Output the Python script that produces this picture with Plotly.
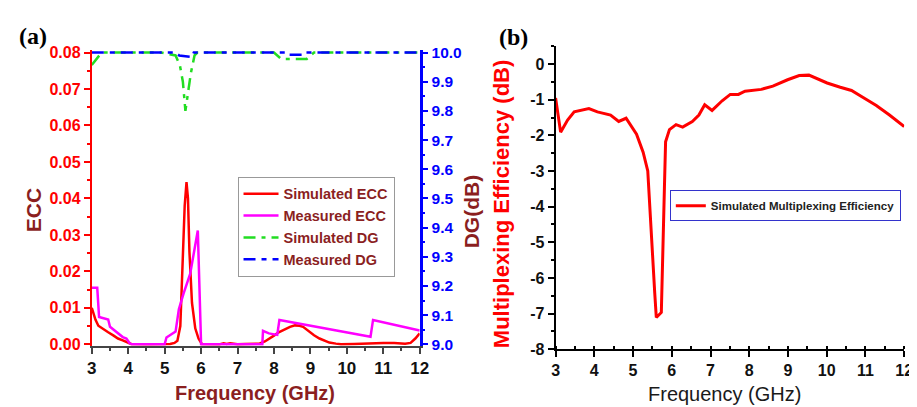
import plotly.graph_objects as go

W, H = 917, 407

# ---------------- data: panel (a) ----------------
f_sim_ecc = [3.0, 3.05, 3.1, 3.18, 3.3, 3.45, 3.6, 3.72, 3.85, 3.95,
             4.08, 4.5, 5.0, 5.15, 5.27, 5.35, 5.43, 5.5, 5.55, 5.6,
             5.64, 5.68, 5.75, 5.84, 5.93, 6.02, 6.5, 6.62, 6.7, 6.8,
             6.9, 7.0, 7.2, 7.6, 7.75, 7.86, 8.0, 8.13, 8.3, 8.44,
             8.58, 8.7, 8.8, 8.98, 9.1, 9.25, 9.4, 9.52, 9.7, 9.84,
             10.2, 10.6, 11.0, 11.3, 11.6, 11.75, 11.88, 12.0]
sim_ecc = [0.0100, 0.0085, 0.0068, 0.0051, 0.0042, 0.0033, 0.0024, 0.0016, 0.0011, 0.0007,
           0.0001, 0.0, 0.0, 0.0001, 0.0004, 0.0010, 0.0050, 0.0254, 0.0380, 0.0445,
           0.0400, 0.0254, 0.0114, 0.0044, 0.0016, 0.0001, 0.0, 0.0003, 0.0001, 0.0003,
           0.0002, 0.0, 0.0001, 0.0002, 0.0008, 0.0016, 0.0024, 0.0033, 0.0042, 0.0048,
           0.0052, 0.0051, 0.0048, 0.0033, 0.0025, 0.0016, 0.0009, 0.0005, 0.0002, 0.0,
           0.0001, 0.0003, 0.0004, 0.0004, 0.0002, 0.0004, 0.0016, 0.0030]

f_meas_ecc = [3.0, 3.15, 3.2, 3.45, 3.5, 3.6, 3.72, 3.85, 3.95, 4.04,
              4.1, 5.0, 5.05, 5.3, 5.39, 5.52, 5.7, 5.91, 6.0, 7.68,
              7.7, 7.86, 8.09, 8.15, 10.65, 10.72, 12.0]
meas_ecc = [0.0155, 0.0155, 0.0075, 0.0068, 0.0048, 0.0040, 0.0029, 0.0020, 0.0016, 0.0003,
            0.0, 0.0, 0.0019, 0.0035, 0.0096, 0.0140, 0.0193, 0.0312, 0.0, 0.0,
            0.0037, 0.0030, 0.0026, 0.0067, 0.0021, 0.0067, 0.0038]

f_sim_dg = [3.0, 3.27, 4.9, 5.3, 5.42, 5.5, 5.57, 5.63, 5.72, 5.82, 5.9, 8.0, 8.2, 8.9, 9.1, 12.0]
sim_dg = [9.957, 10.0, 10.0, 9.99, 9.955, 9.9, 9.80, 9.85, 9.93, 9.99, 10.0, 10.0, 9.978, 9.978, 10.0, 10.0]

f_meas_dg = [3.0, 5.3, 5.4, 5.75, 5.8, 8.3, 8.35, 8.8, 8.85, 12.0]
meas_dg = [10.0, 10.0, 9.99, 9.985, 10.0, 10.0, 9.992, 9.992, 10.0, 10.0]

ecc_ticks = [0.0, 0.01, 0.02, 0.03, 0.04, 0.05, 0.06, 0.07, 0.08]
dg_ticks = [9.0, 9.1, 9.2, 9.3, 9.4, 9.5, 9.6, 9.7, 9.8, 9.9, 10.0]
freq_ticks = [3, 4, 5, 6, 7, 8, 9, 10, 11, 12]

# ---------------- data: panel (b) ----------------
f_me = [3.0, 3.13, 3.31, 3.48, 3.86, 4.08, 4.42, 4.63, 4.82, 5.09,
        5.26, 5.38, 5.56, 5.6, 5.73, 5.76, 5.81, 5.84, 5.94, 6.11,
        6.28, 6.53, 6.70, 6.85, 7.04, 7.30, 7.51, 7.72, 7.89, 8.31,
        8.61, 8.99, 9.29, 9.54, 9.75, 10.01, 10.35, 10.64, 10.94, 11.28,
        11.62, 12.0]
me = [-0.95, -1.91, -1.57, -1.34, -1.25, -1.34, -1.43, -1.61, -1.52, -1.97,
      -2.47, -3.0, -6.43, -7.11, -6.97, -5.26, -3.46, -2.18, -1.84, -1.70,
      -1.77, -1.61, -1.43, -1.14, -1.30, -1.03, -0.85, -0.85, -0.76, -0.71,
      -0.62, -0.44, -0.32, -0.31, -0.40, -0.53, -0.65, -0.74, -0.94, -1.16,
      -1.43, -1.75]
me_tickvals = [-8, -7, -6, -5, -4, -3, -2, -1, 0]
me_ticktext = ["-8", "-7", "-6", "-5", "-4", "-3", "-2", "-1", "0"]


def px(x):
    return x / W


def py(y):
    return 1 - y / H


FONT = "Arial, Liberation Sans, sans-serif"
MAROON = "#8b1f1f"

fig = go.Figure()

fig.add_trace(go.Scatter(x=f_sim_ecc, y=sim_ecc, mode="lines", name="Simulated ECC",
                         line=dict(color="#ff0000", width=2.5), xaxis="x", yaxis="y"))
fig.add_trace(go.Scatter(x=f_meas_ecc, y=meas_ecc, mode="lines", name="Measured ECC",
                         line=dict(color="#ff00ff", width=2.5), xaxis="x", yaxis="y"))
fig.add_trace(go.Scatter(x=f_sim_dg, y=sim_dg, mode="lines", name="Simulated DG",
                         line=dict(color="#22dd22", width=2.5, dash="12px,6px,4px,6px"),
                         xaxis="x", yaxis="y2"))
fig.add_trace(go.Scatter(x=f_meas_dg, y=meas_dg, mode="lines", name="Measured DG",
                         line=dict(color="#0000ff", width=2.5, dash="12px,6px,5px,6px"),
                         xaxis="x", yaxis="y2"))
fig.add_trace(go.Scatter(x=f_me, y=me, mode="lines", name="Simulated Multiplexing Efficiency",
                         line=dict(color="#ff0000", width=3), xaxis="x2", yaxis="y3",
                         legend="legend2"))

# ECC axis: 0 at px 343, 0.08 at px 40
ecc_per_px = 0.08 / (343 - 40)
ecc_lo, ecc_hi = -0.0004, 0.0808
dg_lo, dg_hi = 9.0 - 0.005, 10.01
y_dom = [py(343 + (0 - ecc_lo) / ecc_per_px), py(40 - (ecc_hi - 0.08) / ecc_per_px)]

bold = "bold"

fig.update_layout(
    width=W, height=H,
    margin=dict(l=0, r=0, t=0, b=0),
    paper_bgcolor="white", plot_bgcolor="white",
    font=dict(family=FONT),
    xaxis=dict(domain=[px(80), px(413)], range=[3, 12], anchor="y",
               tickvals=freq_ticks, showgrid=False, zeroline=False,
               showline=True, linecolor="#444444", linewidth=2,
               ticks="outside", ticklen=6, tickwidth=2, tickcolor="#444444",
               minor=dict(dtick=0.5, ticks="outside", ticklen=3, tickwidth=2, tickcolor="#444444"),
               tickfont=dict(family=FONT, size=17, color="#111111", weight=bold)),
    yaxis=dict(domain=y_dom, range=[ecc_lo, ecc_hi], anchor="x",
               tickvals=ecc_ticks, tickformat=".2f", showgrid=False, zeroline=False,
               showline=True, linecolor="#ff0000", linewidth=2,
               ticks="outside", ticklen=6, tickwidth=2, tickcolor="#ff0000",
               minor=dict(dtick=0.005, tick0=0, ticks="outside", ticklen=3, tickwidth=2, tickcolor="#ff0000"),
               tickfont=dict(family=FONT, size=16, color="#ff0000", weight=bold)),
    yaxis2=dict(overlaying="y", side="right", anchor="x", range=[dg_lo, dg_hi],
                tickvals=dg_ticks, tickformat=".1f", showgrid=False, zeroline=False,
                showline=True, linecolor="#0000ff", linewidth=2.5,
                ticks="outside", ticklen=6, tickwidth=2, tickcolor="#0000ff",
                minor=dict(dtick=0.05, tick0=9.0, ticks="outside", ticklen=3, tickwidth=2, tickcolor="#0000ff"),
                tickfont=dict(family=FONT, size=15.5, color="#0000ff", weight=bold)),
    xaxis2=dict(domain=[px(551), px(905)], range=[3, 12], anchor="y3",
                tickvals=freq_ticks, showgrid=False, zeroline=False,
                showline=True, linecolor="#000000", linewidth=2,
                ticks="outside", ticklen=6, tickwidth=2, tickcolor="#000000",
                minor=dict(dtick=0.5, ticks="inside", ticklen=3, tickwidth=2, tickcolor="#000000"),
                tickfont=dict(family=FONT, size=16, color="#111111", weight=bold)),
    yaxis3=dict(domain=[py(348), py(33.5)], range=[-8, 0.5], anchor="x2",
                tickvals=me_tickvals, ticktext=me_ticktext, showgrid=False, zeroline=False,
                showline=True, linecolor="#000000", linewidth=2,
                ticks="outside", ticklen=6, tickwidth=2, tickcolor="#000000",
                minor=dict(dtick=0.5, ticks="outside", ticklen=3, tickwidth=2, tickcolor="#000000"),
                tickfont=dict(family=FONT, size=16, color="#111111", weight=bold)),
    legend=dict(x=px(228), y=py(169), xanchor="left", yanchor="top",
                bgcolor="white", bordercolor="#999999", borderwidth=1,
                font=dict(family=FONT, size=14.5, color=MAROON, weight=bold),
                itemwidth=35, tracegroupgap=0),
    legend2=dict(x=px(667), y=py(183), xanchor="left", yanchor="top",
                 bgcolor="white", bordercolor="#3333cc", borderwidth=1,
                 font=dict(family=FONT, size=11.5, color="#222222", weight=bold),
                 itemwidth=30),
)

annotations = [
    dict(text="(a)", x=px(20), y=py(23), font=dict(family="Times New Roman, Liberation Serif, serif", size=24, color="black", weight=bold)),
    dict(text="(b)", x=px(508), y=py(24), font=dict(family="Times New Roman, Liberation Serif, serif", size=24, color="black", weight=bold)),
    dict(text="ECC", x=px(21), y=py(204), textangle=-90, font=dict(family=FONT, size=21, color=MAROON, weight=bold)),
    dict(text="DG(dB)", x=px(466), y=py(205), textangle=-90, font=dict(family=FONT, size=21, color=MAROON, weight=bold)),
    dict(text="Frequency (GHz)", x=px(246), y=py(393), font=dict(family=FONT, size=20, color=MAROON, weight=bold)),
    dict(text="Multiplexing Efficiency (dB)", x=px(496), y=py(197), textangle=-90, font=dict(family=FONT, size=22, color="#ff0000", weight=bold)),
    dict(text="Frequency (GHz)", x=px(723), y=py(395), font=dict(family=FONT, size=20, color="#1a1a1a")),
]
for a in annotations:
    a.update(xref="paper", yref="paper", xanchor="center", yanchor="middle", showarrow=False)
fig.update_layout(annotations=annotations)

fig.write_html("out.html")
